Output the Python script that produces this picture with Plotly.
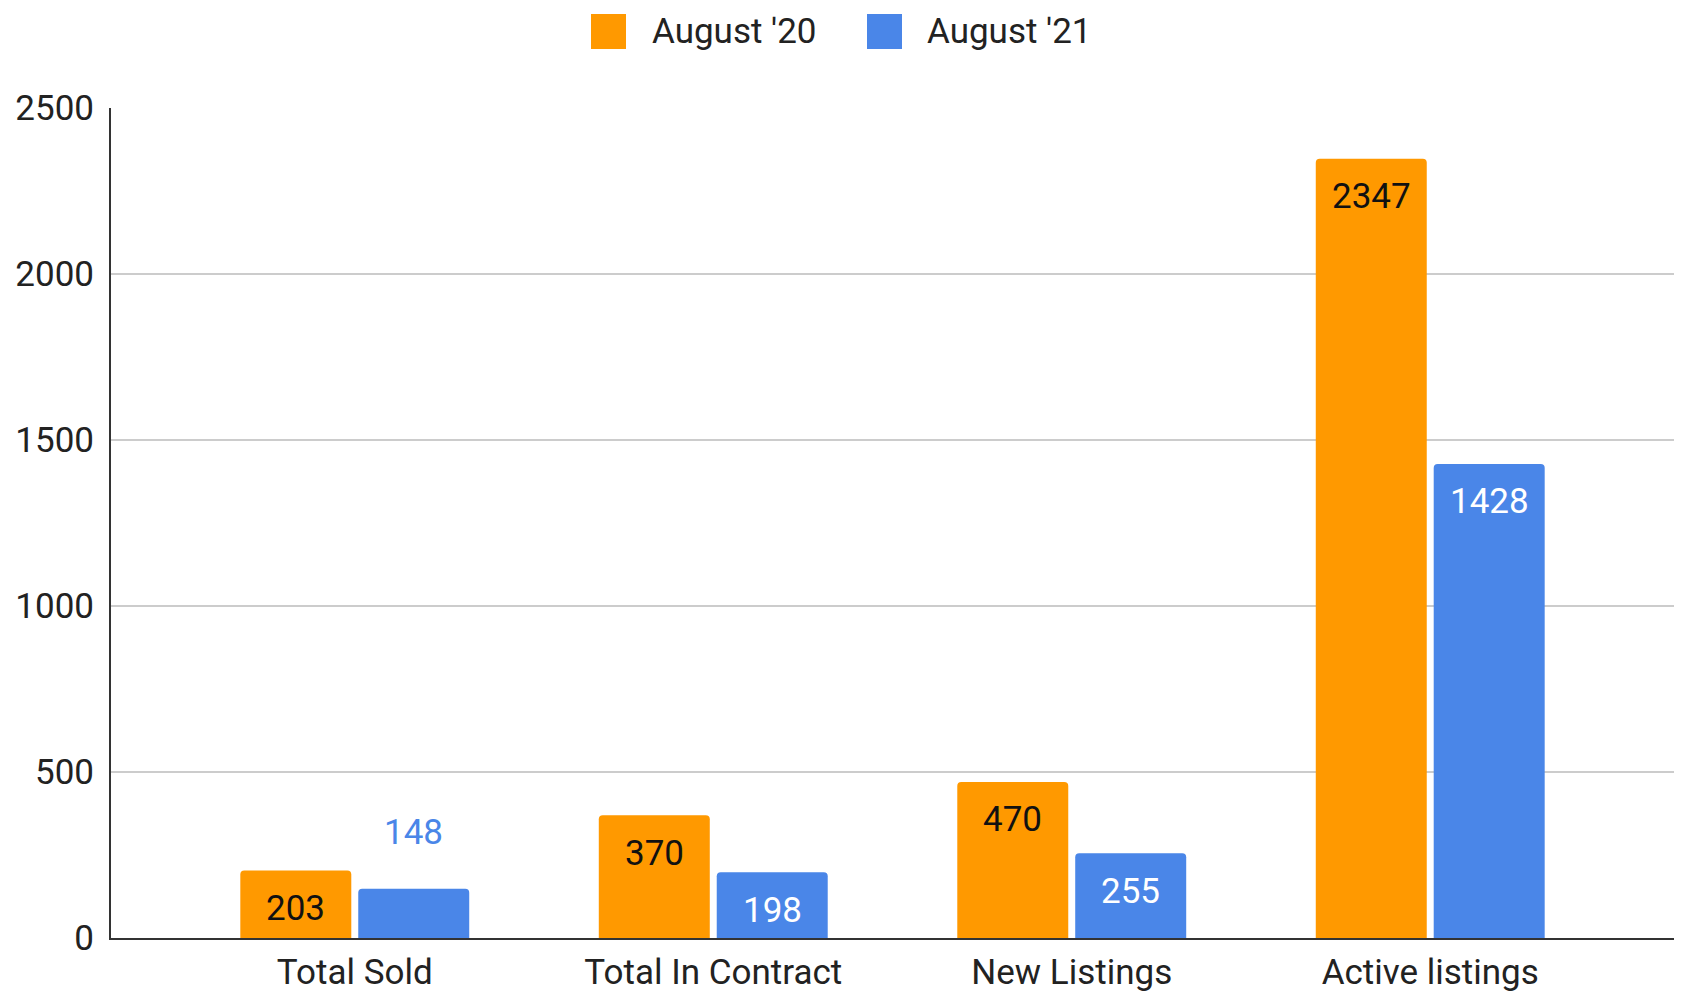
import plotly.graph_objects as go

# ---- data ----
categories = ["Total Sold", "Total In Contract", "New Listings", "Active listings"]
series_names = ["August '20", "August '21"]
aug20 = [203, 370, 470, 2347]
aug21 = [148, 198, 255, 1428]
y_ticks = [0, 500, 1000, 1500, 2000, 2500]

# ---- style ----
colors = ["#FF9900", "#4A86E8"]
inside_label_colors = ["#111111", "#FFFFFF"]
FONT = "Roboto, Arial, sans-serif"
W, H = 1683, 994
# plot area target (page pixels): left 111, right 1674, top 108, bottom 938
ML, MT = 111, 108
MR = W - 1674
MB = H - 938
PW, PH = W - ML - MR, H - MT - MB


def px_to_paper_x(px):
    return (px - ML) / PW


def py_to_paper_y(py):
    return (H - MB - py) / PH


fig = go.Figure()
series = [aug20, aug21]
for name, vals, col in zip(series_names, series, colors):
    fig.add_trace(go.Bar(
        x=categories, y=vals, name=name,
        marker=dict(color=col, line=dict(width=0)),
        showlegend=False, hoverinfo="x+y+name",
    ))

annotations = []
ymax = y_ticks[-1]
ppu = PH / ymax
offsets = [-59, 59]
for si, vals in enumerate(series):
    for cat, v in zip(categories, vals):
        outside = v * ppu < 55
        annotations.append(dict(
            x=cat, y=v, xref="x", yref="y", text=str(v), showarrow=False,
            xshift=offsets[si], yshift=(56 if outside else -38),
            xanchor="center", yanchor="middle",
            font=dict(family=FONT, size=35,
                      color=(colors[si] if outside else inside_label_colors[si])),
        ))

# manual legend (large squares like the reference)
sq_left = [591, 867]
txt_left = [650, 925]
sq_top, sq_size = 14, 35
shapes = []
for i, name in enumerate(series_names):
    shapes.append(dict(
        type="rect", xref="paper", yref="paper",
        x0=px_to_paper_x(sq_left[i]), x1=px_to_paper_x(sq_left[i] + sq_size),
        y0=py_to_paper_y(sq_top + sq_size), y1=py_to_paper_y(sq_top),
        fillcolor=colors[i], line=dict(width=0), layer="above",
    ))
    annotations.append(dict(
        x=px_to_paper_x(txt_left[i]), y=py_to_paper_y(sq_top + sq_size / 2),
        xref="paper", yref="paper", text=name, showarrow=False,
        xanchor="left", yanchor="middle",
        font=dict(family=FONT, size=35, color="#222222"),
    ))

fig.update_layout(
    width=W, height=H,
    margin=dict(l=ML, r=MR, t=MT, b=MB, pad=0, autoexpand=False),
    paper_bgcolor="white", plot_bgcolor="white",
    barmode="group", bargap=0.342, bargroupgap=0.059,
    barcornerradius=4,
    showlegend=False,
    font=dict(family=FONT, size=35, color="#222222"),
    annotations=annotations, shapes=shapes,
    xaxis=dict(
        type="category", range=[-0.68, 3.68], automargin=False,
        showline=True, linecolor="#333333", linewidth=2,
        showgrid=False, ticks="", zeroline=False, ticklabelstandoff=2,
        tickfont=dict(family=FONT, size=35, color="#222222"),
        fixedrange=True,
    ),
    yaxis=dict(
        range=[0, ymax], tickvals=y_ticks, ticktext=[str(t) for t in y_ticks],
        automargin=False,
        showline=True, linecolor="#333333", linewidth=2,
        showgrid=True, gridcolor="#CCCCCC", gridwidth=2,
        zeroline=False, ticks="", ticklabelstandoff=8,
        tickfont=dict(family=FONT, size=35, color="#222222"),
        fixedrange=True,
    ),
)

fig.write_html(
    "out.html",
    config={"displayModeBar": False},
    post_script="document.body.style.margin='0px';document.body.style.overflow='hidden';",
)
